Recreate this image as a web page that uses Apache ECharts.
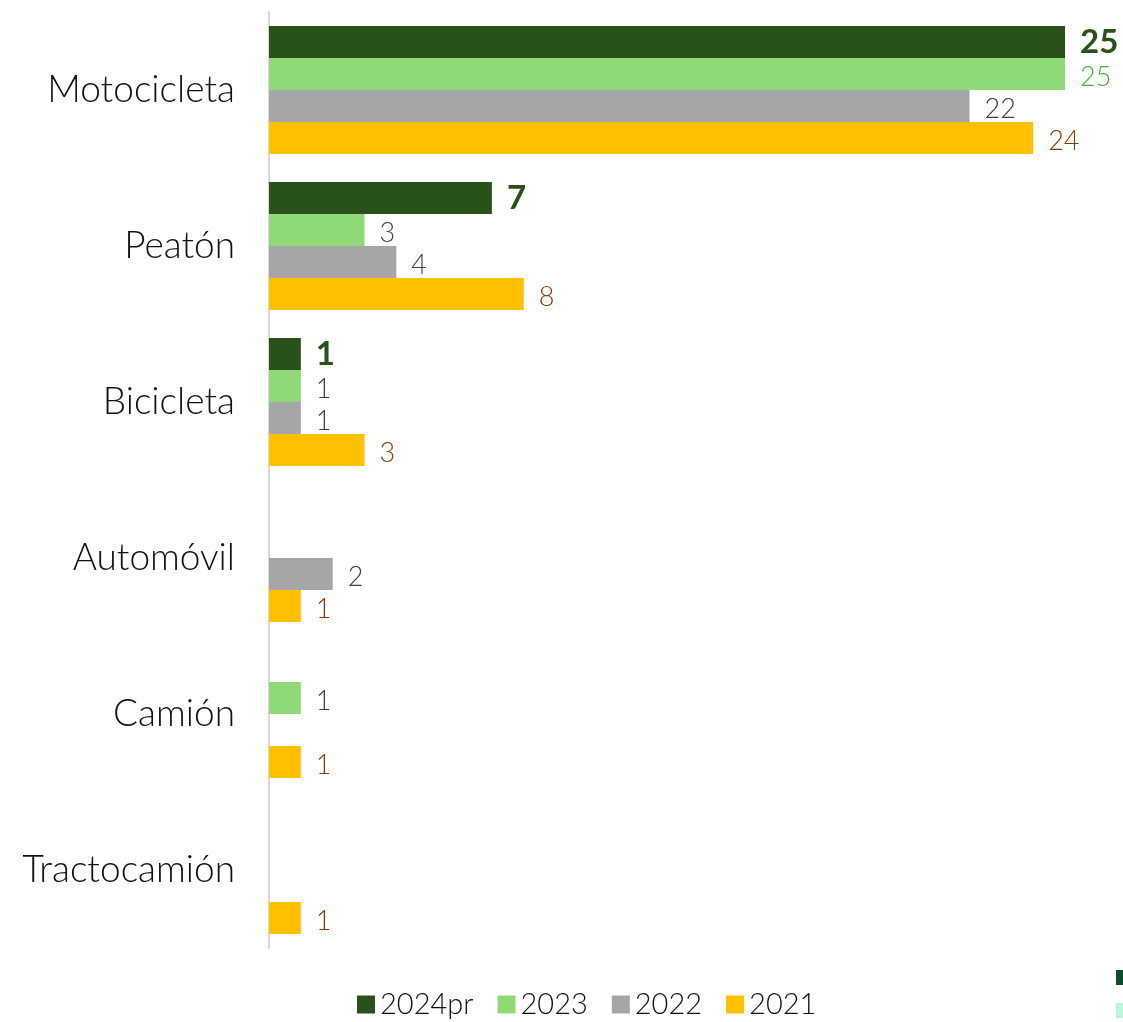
<!DOCTYPE html>
<html>
<head>
<meta charset="utf-8">
<script src="https://cdn.jsdelivr.net/npm/echarts@6/dist/echarts.min.js"></script>
<style>html,body{margin:0;padding:0;background:#fff}#c{width:1123px;height:1022px}</style>
</head>
<body>
<div id="c"></div>
<script>
const categories = ['Motocicleta', 'Peatón', 'Bicicleta', 'Automóvil', 'Camión', 'Tractocamión'];
const seriesNames = ['2024pr', '2023', '2022', '2021'];
const v2024pr = [25, 7, 1, null, null, null];
const v2023 = [25, 3, 1, null, 1, null];
const v2022 = [22, 4, 1, 2, null, null];
const v2021 = [24, 8, 3, 1, 1, 1];

const FONT = '"Lato", "Open Sans", sans-serif';
const colors = ['#29521a', '#8fda76', '#a6a6a6', '#ffc000'];
const labelColors = ['#29521a', '#404040', '#404040', '#843c0c'];
const allVals = [v2024pr, v2023, v2022, v2021];

const series = allVals.map((vals, si) => ({
  name: seriesNames[si],
  type: 'bar',
  barGap: '0%',
  barCategoryGap: '18%',
  itemStyle: { color: colors[si] },
  label: {
    show: true,
    position: 'right',
    distance: 15,
    fontFamily: FONT,
    fontSize: si === 0 ? 33 : 27,
    fontWeight: si === 0 ? 'bold' : 300,
    color: labelColors[si],
    offset: [0, si === 0 ? 0 : 3]
  },
  data: vals.map((v, i) => {
    if (si === 1 && i === 0) return { value: v, label: { color: '#4caf3a' } };
    return v === null ? '-' : v;
  })
}));

const chart = echarts.init(document.getElementById('c'));
chart.setOption({
  animation: false,
  backgroundColor: '#ffffff',
  grid: { left: 269, right: 58, top: 12, bottom: 74, containLabel: false },
  xAxis: {
    type: 'value', min: 0, max: 25, show: false
  },
  yAxis: {
    type: 'category', data: categories, inverse: true,
    axisLine: { show: true, lineStyle: { color: '#d9d9d9', width: 2 } },
    axisTick: { show: false },
    axisLabel: { fontFamily: FONT, fontSize: 37, fontWeight: 300, color: '#111', margin: 34 }
  },
  legend: {
    top: 985, left: 352, itemWidth: 18, itemHeight: 18, itemGap: 24,
    icon: 'rect',
    textStyle: { fontFamily: FONT, fontSize: 29, fontWeight: 300, color: '#111' },
    data: seriesNames
  },
  graphic: [
    { type: 'rect', shape: { x: 1116, y: 970, width: 7, height: 15 }, style: { fill: '#0b4d2a' } },
    { type: 'rect', shape: { x: 1116, y: 1003, width: 7, height: 15 }, style: { fill: '#b9f7d8' } }
  ],
  series: series
});
</script>
</body>
</html>
